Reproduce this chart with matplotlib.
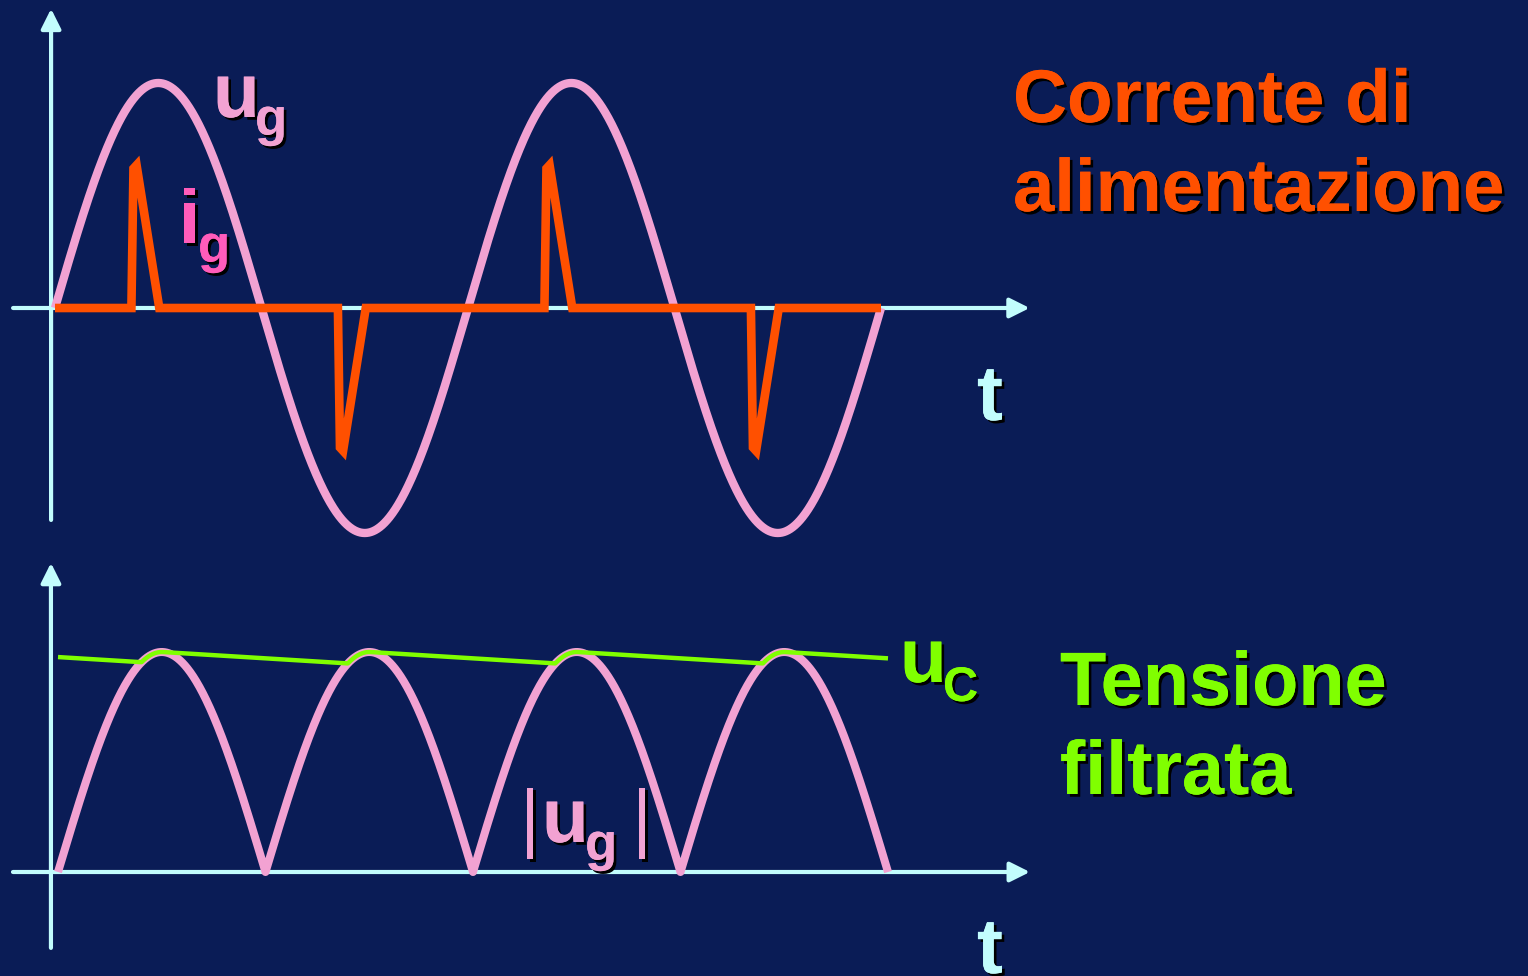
import numpy as np
import matplotlib
matplotlib.use("Agg")
import matplotlib.pyplot as plt
import matplotlib.patheffects as pe

# colours
BG = "#0a1c56"
AXC = "#c2fdfd"
PINK = "#f2a2d2"
HOTPINK = "#ff5cba"
ORANGE = "#ff5000"
GREEN = "#80ff00"

# 1. data (time in ms, 50 Hz mains, amplitudes normalised)
period_ms = 20.0
t_end = 40.0
ug_amp = 1.0

# supply current pulses (top panel)
ig_t = [0.0, 3.7, 3.8, 3.95, 5.05,
        13.7, 13.8, 13.95, 15.05,
        23.7, 23.8, 23.95, 25.05,
        33.7, 33.8, 33.95, 35.05, 40.0]
ig_v = [0.0, 0.0, 0.62, 0.635, 0.0,
        0.0, -0.62, -0.635, 0.0,
        0.0, 0.62, 0.635, 0.0,
        0.0, -0.62, -0.635, 0.0, 0.0]

# filtered voltage (bottom panel)
uc_start = 0.977
uc_decay = 0.0058   # per ms

t = np.linspace(0, t_end, 2001)
ug = ug_amp * np.sin(2 * np.pi * t / period_ms)
ug_abs = np.abs(ug)
uc = np.empty_like(t)
uc[0] = uc_start
dt = t[1] - t[0]
for i in range(1, len(t)):
    uc[i] = max(ug_abs[i], uc[i - 1] - uc_decay * dt)

# 2. figure
W, H = 1528, 976
fig = plt.figure(figsize=(W / 100, H / 100), dpi=100, facecolor=BG)

def box(y0, y1):
    return [0, 1 - y1 / H, 1, (y1 - y0) / H]

shadow = [pe.withSimplePatchShadow(offset=(2, -2), shadow_rgbFace="black", alpha=1), pe.Normal()]

def label(x, y, s, size, color, weight="bold"):
    fig.text(x / W, 1 - y / H, s, fontsize=size, color=color, fontweight=weight,
             family="Liberation Sans", ha="left", va="baseline", path_effects=shadow)

def arrow(ax, x0, y0, x1, y1):
    ax.annotate("", xy=(x1, y1), xytext=(x0, y0), zorder=1,
                arrowprops=dict(arrowstyle="-|>,head_length=0.6,head_width=0.3",
                                mutation_scale=20, lw=3, color=AXC,
                                shrinkA=0, shrinkB=0))

# top panel: u_g and i_g
px_ms = 20.65
ax1 = fig.add_axes(box(0, 560))
ax1.set_facecolor("none")
ax1.set_xlim(-55 / px_ms, (W - 55) / px_ms)
ax1.set_ylim((308 - 560) / 225, 308 / 225)
ax1.axis("off")
arrow(ax1, -2.03, 0, 47.2, 0)
arrow(ax1, -0.19, -0.942, -0.19, 1.33)
ax1.plot(t, ug, color=PINK, lw=6, solid_capstyle="butt", zorder=2)
ax1.plot(ig_t, ig_v, color=ORANGE, lw=6.2, solid_joinstyle="miter",
         solid_capstyle="butt", zorder=3)

# bottom panel: |u_g| and u_C
px_ms2 = 20.75
ax2 = fig.add_axes(box(560, 976))
ax2.set_facecolor("none")
ax2.set_xlim(-58 / px_ms2, (W - 58) / px_ms2)
ax2.set_ylim((872 - 976) / 220, (872 - 560) / 220)
ax2.axis("off")
arrow(ax2, -2.17, 0, 46.84, 0)
arrow(ax2, -0.34, -0.345, -0.34, 1.405)
ax2.plot(t, ug_abs, color=PINK, lw=5.8, solid_capstyle="butt", zorder=2)
ax2.plot(t, uc, color=GREEN, lw=3.2, solid_capstyle="butt", zorder=3)

# 3. labels
label(213, 117, "u", 55, PINK)
label(255, 135, "g", 38, PINK)
label(179, 243, "i", 55, HOTPINK)
label(198, 262, "g", 38, HOTPINK)
label(977, 420, "t", 56, AXC)

label(520, 843, "|", 55, PINK, weight="normal")
label(542, 842, "u", 55, PINK)
label(585, 860, "g", 38, PINK)
label(632, 843, "|", 55, PINK, weight="normal")
label(900, 682, "u", 55, GREEN)
label(943, 701, "C", 35, GREEN)
label(977, 973, "t", 56, AXC)

label(1013, 122, "Corrente di", 53.8, ORANGE)
label(1013, 211, "alimentazione", 53.5, ORANGE)
label(1060, 705, "Tensione", 54.5, GREEN)
label(1060, 794, "filtrata", 54.5, GREEN)

plt.savefig("out.png", dpi=100, facecolor=BG)
plt.close()
